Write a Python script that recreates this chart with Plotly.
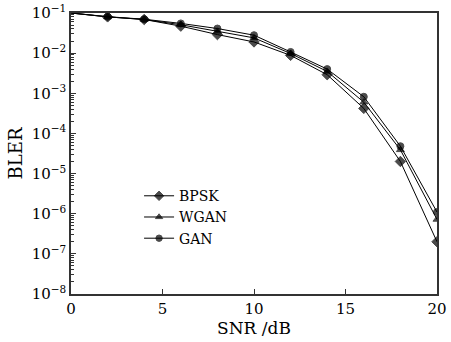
import plotly.graph_objects as go

snr = [0, 2, 4, 6, 8, 10, 12, 14, 16, 18, 20]
bpsk = [0.1, 0.080, 0.069, 0.047, 0.029, 0.019, 0.0088, 0.0029, 4.2e-4, 2.0e-5, 2.0e-7]
wgan = [0.1, 0.080, 0.069, 0.051, 0.035, 0.024, 0.0098, 0.0035, 6.0e-4, 3.9e-5, 7.2e-7]
gan = [0.1, 0.081, 0.070, 0.055, 0.041, 0.028, 0.0107, 0.0040, 8.2e-4, 4.8e-5, 1.1e-6]

names = ["BPSK", "WGAN", "GAN"]
symbols = ["diamond", "triangle-up", "circle"]
sizes = [8, 7, 7]
series = [bpsk, wgan, gan]

ytick_vals = [10 ** -k for k in range(1, 9)]
ytick_text = ["10<sup>\u2212%d</sup>" % k for k in range(1, 9)]
minor_vals = [m * 10 ** -k for k in range(2, 9) for m in range(2, 10)]

font = "DejaVu Serif"

fig = go.Figure()
for name, sym, sz, ys in zip(names, symbols, sizes, series):
    fig.add_trace(go.Scatter(
        x=snr, y=ys, name=name, mode="lines+markers",
        line=dict(color="black", width=1),
        marker=dict(symbol=sym, color="black", size=[0] + [sz] * (len(snr) - 1),
                    line=dict(color="black", width=1)),
    ))

axis_line = dict(showline=True, linecolor="#333", linewidth=1.5, mirror=True,
                 showgrid=False, zeroline=False, ticks="inside", tickcolor="#333",
                 automargin=False)

fig.update_layout(
    width=451, height=342,
    margin=dict(l=71, r=14, t=13, b=48),
    paper_bgcolor="white", plot_bgcolor="white",
    font=dict(family=font, size=15, color="black"),
    showlegend=True,
    legend=dict(x=0.186, y=0.405, xanchor="left", yanchor="top",
                bgcolor="rgba(0,0,0,0)", font=dict(family=font, size=14),
                itemwidth=30, tracegroupgap=0),
)
fig.update_xaxes(range=[0, 20], tickvals=[0, 5, 10, 15, 20], ticklen=5,
                 tickfont=dict(family=font, size=15, color="black"),
                 title=dict(text="SNR /dB", standoff=4, font=dict(family=font, size=17)),
                 **axis_line)
fig.update_yaxes(type="log", range=[-8, -1], tickmode="array", tickvals=ytick_vals,
                 ticktext=ytick_text, ticklen=5,
                 tickfont=dict(family=font, size=15, color="black"),
                 minor=dict(tickmode="array", tickvals=minor_vals, ticks="inside",
                            ticklen=3, tickcolor="#333", showgrid=False),
                 title=dict(text="BLER", standoff=4, font=dict(family=font, size=18)),
                 **axis_line)

fig.write_html("out.html", config={"displayModeBar": False},
               post_script="document.body.style.margin='0';document.body.style.overflow='hidden';")
